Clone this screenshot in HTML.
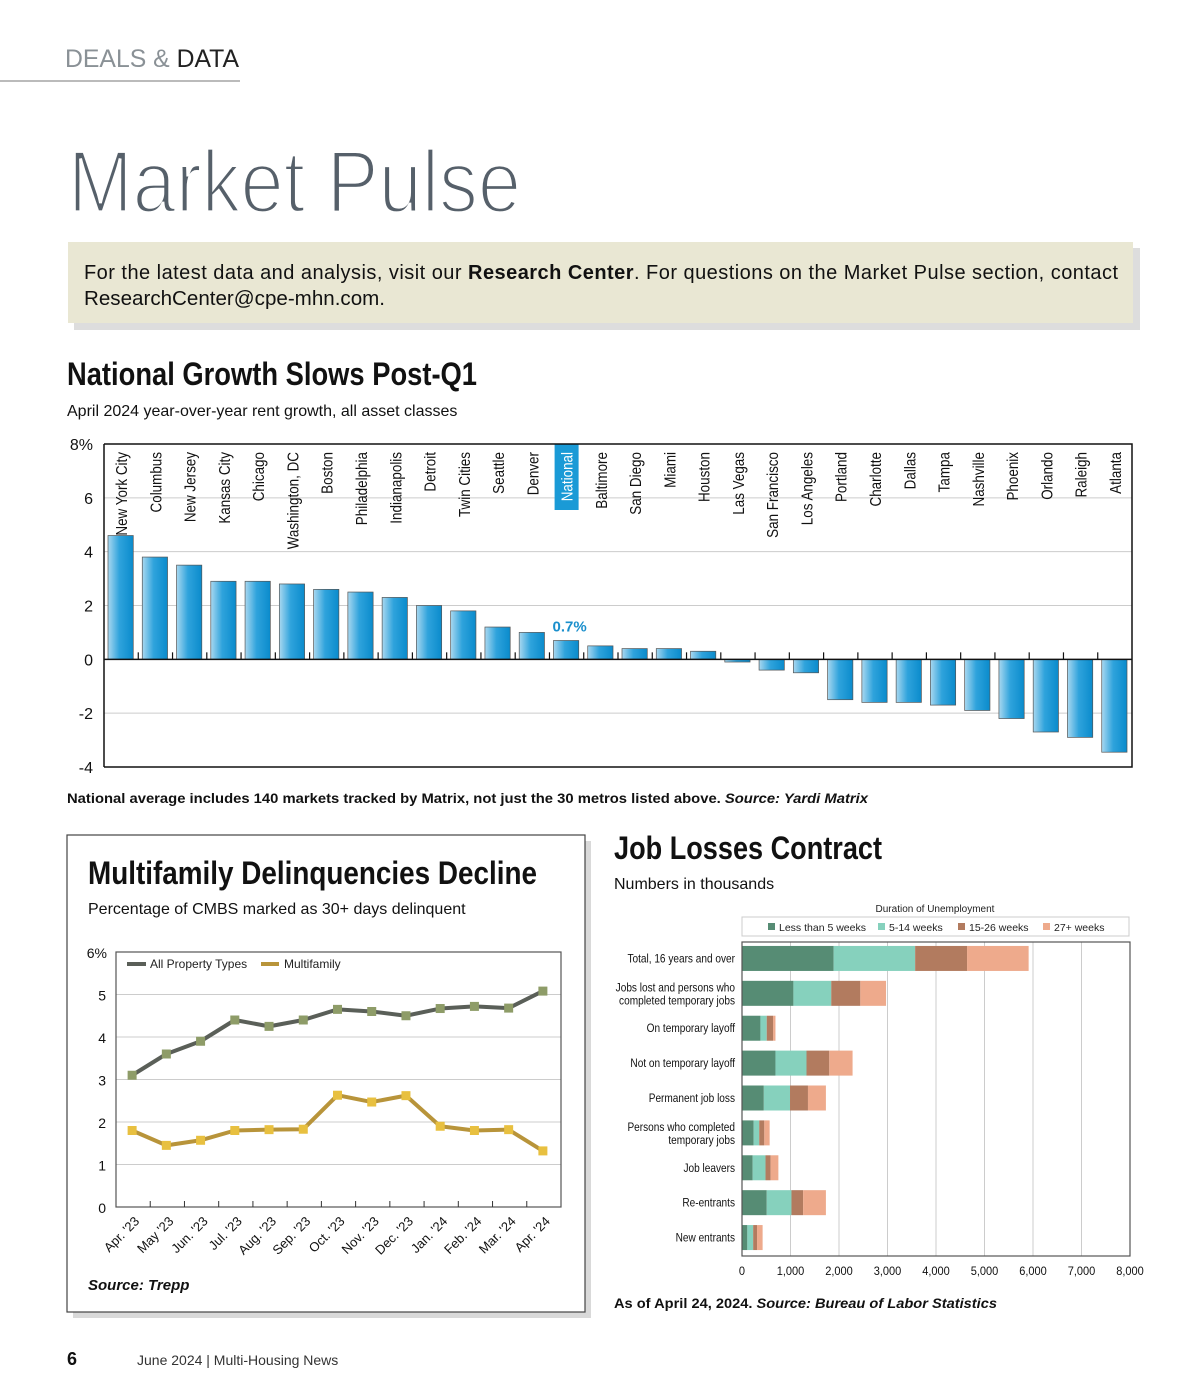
<!DOCTYPE html>
<html><head><meta charset="utf-8"><style>
html,body{margin:0;padding:0;background:#fff;}
svg{display:block;font-family:"Liberation Sans",sans-serif;}
.cond{font-family:"Liberation Sans Narrow","Liberation Sans",sans-serif;}
</style></head><body>
<svg id="page" width="1200" height="1400" viewBox="0 0 1200 1400">
<defs>
<linearGradient id="barg" x1="0" x2="1" y1="0" y2="0"><stop offset="0" stop-color="#a9d8f0"/><stop offset="0.45" stop-color="#2fa3dc"/><stop offset="1" stop-color="#0a8bcc"/></linearGradient>
</defs>
<g>
<text x="65" y="67" font-size="25" fill="#8a9196" textLength="174" lengthAdjust="spacingAndGlyphs">DEALS &amp; <tspan fill="#222">DATA</tspan></text>
<rect x="0" y="80" width="240" height="2" fill="#bbb"/>
<text x="68" y="212" font-size="88" fill="#56606a" stroke="#fff" stroke-width="3.2" textLength="453" lengthAdjust="spacingAndGlyphs">Market Pulse</text>
</g>
<g>
<rect x="74" y="248" width="1066" height="82" fill="#cfcfcf" opacity="0.7"/>
<rect x="68" y="242" width="1065" height="81" fill="#e9e7d3"/>
<text x="84" y="279" font-size="20" fill="#111" textLength="1034" lengthAdjust="spacing">For the latest data and analysis, visit our <tspan font-weight="bold">Research Center</tspan>. For questions on the Market Pulse section, contact</text>
<text x="84" y="305" font-size="20" fill="#111" textLength="301" lengthAdjust="spacingAndGlyphs">ResearchCenter@cpe-mhn.com.</text>
</g>
<text x="67" y="385" font-size="32" font-weight="bold" fill="#111" textLength="410" lengthAdjust="spacingAndGlyphs">National Growth Slows Post-Q1</text>
<text x="67" y="416" font-size="16" fill="#111">April 2024 year-over-year rent growth, all asset classes</text>
<g id="barchart"></g>
<text x="67" y="803" font-size="14" font-weight="bold" fill="#111" textLength="801" lengthAdjust="spacingAndGlyphs">National average includes 140 markets tracked by Matrix, not just the 30 metros listed above. <tspan font-style="italic">Source: Yardi Matrix</tspan></text>

<g>
<rect x="73" y="841" width="518" height="477" fill="#cfcfcf" opacity="0.8"/>
<rect x="67" y="835" width="518" height="477" fill="#fff" stroke="#444" stroke-width="1.2"/>
<text x="88" y="884" font-size="32" font-weight="bold" fill="#111" textLength="449" lengthAdjust="spacingAndGlyphs">Multifamily Delinquencies Decline</text>
<text x="88" y="914" font-size="16" fill="#111">Percentage of CMBS marked as 30+ days delinquent</text>
<g id="linechart"></g>
<text x="88" y="1290" font-size="15" font-weight="bold" font-style="italic" fill="#111">Source: Trepp</text>
</g>

<text x="614" y="859" font-size="32" font-weight="bold" fill="#111" textLength="268" lengthAdjust="spacingAndGlyphs">Job Losses Contract</text>
<text x="614" y="889" font-size="16" fill="#111">Numbers in thousands</text>
<g id="jobchart"></g>
<text x="614" y="1308" font-size="14" font-weight="bold" fill="#111" textLength="383" lengthAdjust="spacingAndGlyphs">As of April 24, 2024. <tspan font-style="italic">Source: Bureau of Labor Statistics</tspan></text>

<text x="67" y="1365" font-size="18" font-weight="bold" fill="#111">6</text>
<text x="137" y="1365" font-size="14" fill="#333">June 2024  |  Multi-Housing News</text>
</svg>
<script>
const NS="http://www.w3.org/2000/svg";
function mk(parent,tag,attrs,text){const e=document.createElementNS(NS,tag);for(const k in attrs)e.setAttribute(k,attrs[k]);if(text!==undefined)e.textContent=text;parent.appendChild(e);return e;}

// ---- Bar chart data ----
const barCities=["New York City","Columbus","New Jersey","Kansas City","Chicago","Washington, DC","Boston","Philadelphia","Indianapolis","Detroit","Twin Cities","Seattle","Denver","National","Baltimore","San Diego","Miami","Houston","Las Vegas","San Francisco","Los Angeles","Portland","Charlotte","Dallas","Tampa","Nashville","Phoenix","Orlando","Raleigh","Atlanta"];
const barValues=[4.6,3.8,3.5,2.9,2.9,2.8,2.6,2.5,2.3,2.0,1.8,1.2,1.0,0.7,0.5,0.4,0.4,0.3,-0.1,-0.4,-0.5,-1.5,-1.6,-1.6,-1.7,-1.9,-2.2,-2.7,-2.9,-3.45];
const barTicks=[8,6,4,2,0,-2,-4];
const barTickLabels=["8%","6","4","2","0","-2","-4"];

(function(){
const g=document.getElementById('barchart');
const L=104,R=1132,T=444,B=767,min=-4,max=8;
const y=v=>T+(max-v)/(max-min)*(B-T);
const slot=(R-L)/barCities.length;
const x=i=>L+slot*i;
barTicks.forEach((t,i)=>{
  if(t!==0&&t!==8&&t!==-4){const l=mk(g,'line',{x1:L,x2:R,y1:y(t),y2:y(t),stroke:'#ccc','stroke-width':1});
  
  }
  const tx=mk(g,'text',{x:93,y:y(t)+6,'font-size':16,'text-anchor':'end',fill:'#111'},barTickLabels[i]);
  
  
});
barValues.forEach((v,i)=>{
  const bx=x(i)+4,bw=slot-9;
  const r=mk(g,'rect',{x:bx,y:Math.min(y(v),y(0)),width:bw,height:Math.abs(y(v)-y(0)),fill:'url(#barg)',stroke:'#555','stroke-width':0.7});
  
  
  const cx=x(i)+slot/2;
  if(barCities[i]==="National"){
    const hl=mk(g,'rect',{x:cx-12,y:444,width:24,height:66,fill:'#1a9ad6'});
    
    
    const vl=mk(g,'text',{x:cx+3,y:y(v)-9,'font-size':15,'font-weight':'bold','text-anchor':'middle',fill:'#1a8fcc'},"0.7%");
    
    
  }
  const t=mk(g,'text',{x:0,y:0,'font-size':16,'text-anchor':'end',fill:barCities[i]==="National"?'#fff':'#111',transform:`translate(${cx+6},${452}) rotate(-90) scale(0.84,1)`},barCities[i]);
  
  
  if(i>0){const tk=mk(g,'line',{x1:x(i),x2:x(i),y1:y(0),y2:y(0)-7,stroke:'#111','stroke-width':1.2});
  
  }
});
const z=mk(g,'line',{x1:L,x2:R,y1:y(0),y2:y(0),stroke:'#111','stroke-width':1.5});


const fr=mk(g,'path',{d:`M${L},${T}H${R}V${B}H${L}`,fill:'none',stroke:'#111','stroke-width':1.5});


const yl=mk(g,'line',{x1:L,x2:L,y1:T,y2:B,stroke:'#111','stroke-width':1.5});


})();

// ---- Line chart data ----
const lineMonths=["Apr. '23","May '23","Jun. '23","Jul. '23","Aug. '23","Sep. '23","Oct. '23","Nov. '23","Dec. '23","Jan. '24","Feb. '24","Mar. '24","Apr. '24"];
const allPropertyValues=[3.1,3.6,3.9,4.4,4.25,4.4,4.65,4.6,4.5,4.67,4.72,4.68,5.08];
const multifamilyValues=[1.8,1.45,1.57,1.8,1.82,1.83,2.63,2.47,2.62,1.9,1.8,1.82,1.32];
const lineTicks=[0,1,2,3,4,5,6];
const lineTickLabels=["0","1","2","3","4","5","6%"];

(function(){
const g=document.getElementById('linechart');
const L=116,R=561,T=952,B=1207,min=0,max=6;
const y=v=>B-(v-min)/(max-min)*(B-T);
const step=(R-L)/lineMonths.length;
const x=i=>L+step*(i+0.5)-1;
lineTicks.forEach((t,i)=>{
  if(t>0&&t<6){const l=mk(g,'line',{x1:L,x2:R,y1:y(t),y2:y(t),stroke:'#ccc','stroke-width':1});
  
  }
  const tx=mk(g,'text',{x:t===6?107:106,y:y(t)+6,'font-size':14,'text-anchor':'end',fill:'#111'},lineTickLabels[i]);
  
  
});
const fr=mk(g,'rect',{x:L,y:T,width:R-L,height:B-T,fill:'none',stroke:'#555','stroke-width':1.2});


lineMonths.forEach((m,i)=>{
  if(i>0){const tk=mk(g,'line',{x1:L+step*i,x2:L+step*i,y1:B,y2:B-6,stroke:'#333','stroke-width':1});
  
  }
  const t=mk(g,'text',{x:0,y:0,'font-size':13,'text-anchor':'end',fill:'#111',transform:`translate(${x(i)+8},${1222}) rotate(-45)`},m);
  
  
});
function series(vals,stroke,marker,name){
  const p=mk(g,'polyline',{points:vals.map((v,i)=>x(i)+','+y(v)).join(' '),fill:'none',stroke:stroke,'stroke-width':4,'stroke-linejoin':'round'});
  
  
  vals.forEach((v,i)=>{const r=mk(g,'rect',{x:x(i)-4.5,y:y(v)-4.5,width:9,height:9,fill:marker});
  
  });
}
series(allPropertyValues,'#5a5f58','#8e9c68','all-property-types');
series(multifamilyValues,'#b8943a','#e8c040','multifamily');
const l1=mk(g,'line',{x1:127,x2:146,y1:964,y2:964,stroke:'#5a5f58','stroke-width':4});


const t1=mk(g,'text',{x:150,y:968,'font-size':12,fill:'#222'},'All Property Types');


const l2=mk(g,'line',{x1:261,x2:279,y1:964,y2:964,stroke:'#b8943a','stroke-width':4});


const t2=mk(g,'text',{x:284,y:968,'font-size':12,fill:'#222'},'Multifamily');


})();

// ---- Job chart data ----
const jobCategories=[["Total, 16 years and over"],["Jobs lost and persons who","completed temporary jobs"],["On temporary layoff"],["Not on temporary layoff"],["Permanent job loss"],["Persons who completed","temporary jobs"],["Job leavers"],["Re-entrants"],["New entrants"]];
const jobLess5=[1890,1060,380,690,450,240,220,510,110];
const job5to14=[1680,780,130,640,540,115,265,510,120];
const job15to26=[1070,600,130,470,370,105,105,240,80];
const job27plus=[1270,530,50,480,370,110,160,470,115];
const jobSeriesNames=["Less than 5 weeks","5-14 weeks","15-26 weeks","27+ weeks"];
const jobTicks=[0,1000,2000,3000,4000,5000,6000,7000,8000];
const jobTickLabels=["0","1,000","2,000","3,000","4,000","5,000","6,000","7,000","8,000"];

(function(){
const g=document.getElementById('jobchart');
const colors=['#568c74','#86d1bd','#b27b5f','#eeaa8c'];
const L=742,R=1130,T=942,B=1256,max=8000;
const x=v=>L+v/max*(R-L);
const rowH=(B-T)/jobCategories.length;
const cy=i=>T+rowH*(i+0.5)-1;
const ttl=mk(g,'text',{x:935,y:912,'font-size':10,'text-anchor':'middle',fill:'#222'},'Duration of Unemployment');


const lb=mk(g,'rect',{x:742,y:917,width:387,height:19,fill:'#fff',stroke:'#ccc'});


const lx=[768,878,958,1043];
jobSeriesNames.forEach((n,i)=>{
  const s=mk(g,'rect',{x:lx[i],y:923,width:7,height:7,fill:colors[i]});
  
  
  const t=mk(g,'text',{x:lx[i]+11,y:931,'font-size':10.5,fill:'#222'},n);
  
  
});
jobTicks.forEach((t,i)=>{
  if(t>0&&t<max){const l=mk(g,'line',{x1:x(t),x2:x(t),y1:T,y2:B,stroke:'#ccc','stroke-width':1});
  
  }
  const tx=mk(g,'text',{x:0,y:0,'font-size':12,'text-anchor':'middle',fill:'#111',transform:`translate(${x(t)},1275) scale(0.92,1)`},jobTickLabels[i]);
  
  
});
const series=[jobLess5,job5to14,job15to26,job27plus];
jobCategories.forEach((c,i)=>{
  let acc=0;
  series.forEach((s,k)=>{
    const r=mk(g,'rect',{x:x(acc),y:cy(i)-12.5,width:x(acc+s[i])-x(acc),height:25,fill:colors[k]});
    
    
    acc+=s[i];
  });
  c.forEach((line,j)=>{
    const ty=cy(i)+4+(c.length===2?(j===0?-6:7):0);
    const t=mk(g,'text',{x:0,y:0,'font-size':12,'text-anchor':'end',fill:'#111',transform:`translate(735,${ty}) scale(0.84,1)`},line);
    
    
  });
});
const fr=mk(g,'rect',{x:L,y:T,width:R-L,height:B-T,fill:'none',stroke:'#555','stroke-width':1.2});


})();
</script>
</body></html>
